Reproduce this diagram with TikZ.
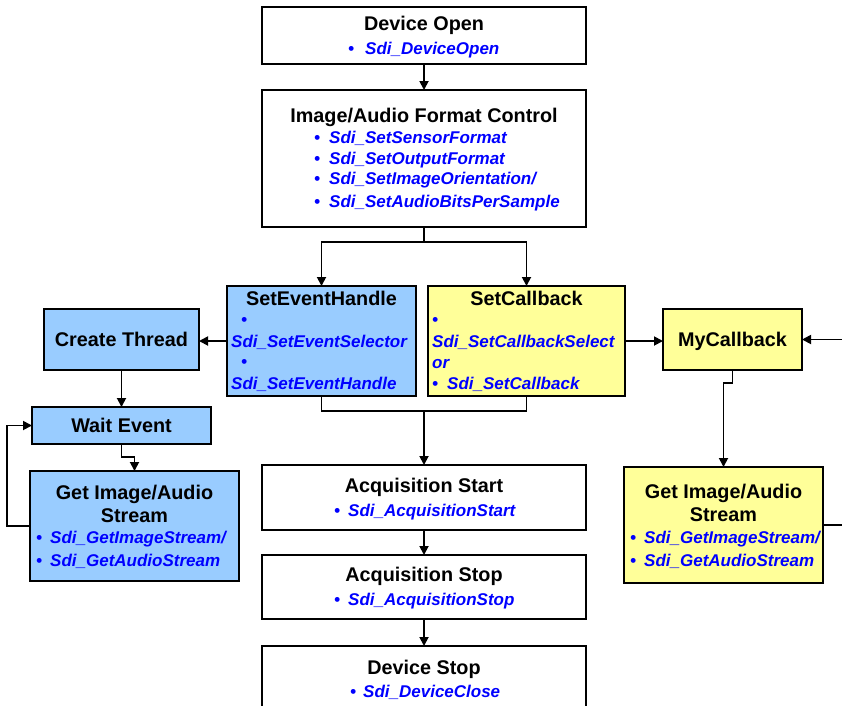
\documentclass[tikz,border=0pt]{standalone}
\usepackage{fontspec}
\setmainfont{Liberation Sans}
\usetikzlibrary{arrows.meta}
\definecolor{boxblue}{RGB}{153,204,255}
\definecolor{boxyellow}{RGB}{255,255,153}
\definecolor{txtblue}{RGB}{0,0,255}
\newcommand\bl[1]{\makebox[#1pt][l]{•}}
\begin{document}
\begin{tikzpicture}[x=1pt,y=-1pt,
  box/.style={draw=black, line width=1.8pt, inner sep=0pt, outer sep=0pt, anchor=north west},
  bluebox/.style={box, fill=boxblue},
  yelbox/.style={box, fill=boxyellow},
  ttl/.style={font=\fontsize{19.8}{22}\selectfont\bfseries, inner sep=0pt, anchor=base},
  itm/.style={font=\fontsize{17}{19}\selectfont\bfseries\itshape, text=txtblue, inner sep=0pt, anchor=base west},
  ln/.style={line width=1.8pt},
  arr/.style={line width=1.8pt, -{Triangle[length=9pt,width=9pt]}}]
\useasboundingbox (0,0) rectangle (842,705);
\clip (0,0) rectangle (842,705);
% boxes
\node[box, minimum width=324pt, minimum height=57pt] (open) at (262,7) {};
\node[box, minimum width=324pt, minimum height=137pt] (fmt) at (262,90) {};
\node[bluebox, minimum width=189pt, minimum height=110pt] (seh) at (227,286) {};
\node[yelbox, minimum width=197pt, minimum height=110pt] (scb) at (428,286) {};
\node[bluebox, minimum width=155pt, minimum height=61pt] (ct) at (44,309) {};
\node[bluebox, minimum width=179pt, minimum height=37pt] (we) at (32,407) {};
\node[bluebox, minimum width=209pt, minimum height=110pt] (gl) at (30,471) {};
\node[yelbox, minimum width=139pt, minimum height=61pt] (myc) at (663,309) {};
\node[yelbox, minimum width=199pt, minimum height=116pt] (gr) at (624,467) {};
\node[box, minimum width=324pt, minimum height=65pt] (as) at (262,465) {};
\node[box, minimum width=324pt, minimum height=64pt] (ast) at (262,555) {};
\node[box, minimum width=324pt, minimum height=80pt] (ds) at (262,646) {};
% texts
\node[ttl] (open-t) at (424,30) {Device Open};
\node[itm] (open-1) at (348,54) {\bl{17}Sdi\_DeviceOpen};
\node[ttl] (fmt-t) at (424,122) {Image/Audio Format Control};
\node[itm] (fmt-1) at (314,143) {\bl{15}Sdi\_SetSensorFormat};
\node[itm] (fmt-2) at (314,164) {\bl{15}Sdi\_SetOutputFormat};
\node[itm] (fmt-3) at (314,184) {\bl{15}Sdi\_SetImageOrientation/};
\node[itm] (fmt-4) at (314,207) {\bl{15}Sdi\_SetAudioBitsPerSample};
\node[ttl] (seh-t) at (321.5,305) {SetEventHandle};
\node[itm] (seh-1) at (241,325.5) {•};
\node[itm] (seh-2) at (231,347) {Sdi\_SetEventSelector};
\node[itm] (seh-3) at (241,367.5) {•};
\node[itm] (seh-4) at (231,389) {Sdi\_SetEventHandle};
\node[ttl] (scb-t) at (526.5,305) {SetCallback};
\node[itm] (scb-1) at (432,325.5) {•};
\node[itm] (scb-2) at (432,347) {Sdi\_SetCallbackSelect};
\node[itm] (scb-3) at (432,368) {or};
\node[itm] (scb-4) at (432,389) {\bl{15}Sdi\_SetCallback};
\node[ttl] (ct-t) at (121.5,346) {Create Thread};
\node[ttl] (we-t) at (121.5,432) {Wait Event};
\node[ttl] (gl-t1) at (134.5,499) {Get Image/Audio};
\node[ttl] (gl-t2) at (134.5,522) {Stream};
\node[itm] (gl-1) at (36,543) {\bl{14}Sdi\_GetImageStream/};
\node[itm] (gl-2) at (36,566) {\bl{14}Sdi\_GetAudioStream};
\node[ttl] (myc-t) at (732.5,346) {MyCallback};
\node[ttl] (gr-t1) at (723.5,498) {Get Image/Audio};
\node[ttl] (gr-t2) at (723.5,521) {Stream};
\node[itm] (gr-1) at (630,543) {\bl{14}Sdi\_GetImageStream/};
\node[itm] (gr-2) at (630,566) {\bl{14}Sdi\_GetAudioStream};
\node[ttl] (as-t) at (424,492) {Acquisition Start};
\node[itm] (as-1) at (334,516) {\bl{14}Sdi\_AcquisitionStart};
\node[ttl] (ast-t) at (424,581) {Acquisition Stop};
\node[itm] (ast-1) at (334,605) {\bl{14}Sdi\_AcquisitionStop};
\node[ttl] (ds-t) at (424,674) {Device Stop};
\node[itm] (ds-1) at (350,697) {\bl{13}Sdi\_DeviceClose};
% connectors
\draw[arr] (open.south) -- (fmt.north);
\coordinate (split) at (424,242);
\draw[ln] (fmt.south) -- (split);
\draw[arr] (split) -| (seh.north);
\draw[arr] (split) -| (scb.north);
\coordinate (merge) at (424,411);
\draw[ln] (seh.south) |- (merge) -| (scb.south);
\draw[arr] (merge) -- (as.north);
\draw[arr] (as.south) -- (ast.north);
\draw[arr] (ast.south) -- (ds.north);
\draw[arr] (seh.west) -- (seh.west -| ct.east);
\draw[arr] (scb.east) -- (scb.east -| myc.west);
\draw[arr] (ct.south) -- (we.north);
\draw[arr] (we.south) -- ++(0,13) -| (gl.north);
\draw[arr] (gl.west) -- ++(-23,0) |- (we.west);
\draw[arr] (myc.south) -- ++(0,13) -| (gr.north);
\coordinate (offa) at (870,525);
\coordinate (offb) at (870,339.5);
\draw[ln] (gr.east) -- (gr.east -| offa);
\draw[arr] (offb) -- (myc.east);
\end{tikzpicture}
\end{document}
